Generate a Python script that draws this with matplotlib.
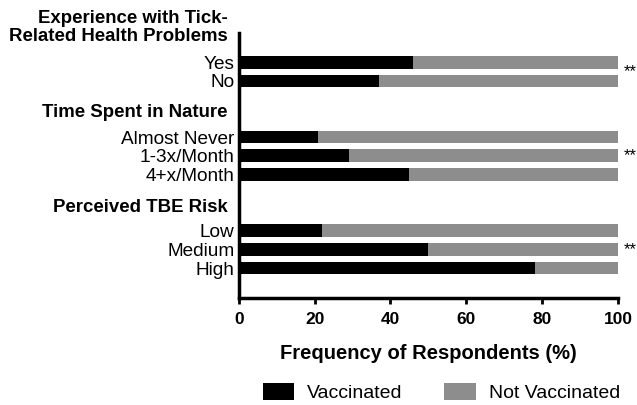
import numpy as np
import matplotlib.pyplot as plt
import matplotlib.transforms as mtransforms

plt.rcParams['font.family'] = ['Liberation Sans', 'DejaVu Sans']

labels = ["Yes", "No", "Almost Never", "1-3x/Month", "4+x/Month", "Low", "Medium", "High"]
vaccinated = [46, 37, 21, 29, 45, 22, 50, 78]
not_vaccinated = [100 - v for v in vaccinated]
positions = [0, 1, 4, 5, 6, 9, 10, 11]

headers = ["Experience with Tick-\nRelated Health Problems", "Time Spent in Nature", "Perceived TBE Risk"]
header_pos = [-1.86, 2.67, 7.75]
sig_pos = [0.5, 5, 10]

fig = plt.figure(figsize=(6.37, 4.05), dpi=100)
ax = fig.add_axes([0.375, 0.264, 0.595, 0.655])

ax.barh(positions, vaccinated, height=0.68, color='black', label='Vaccinated')
ax.barh(positions, not_vaccinated, left=vaccinated, height=0.68, color='#8d8d8d', label='Not Vaccinated')

ax.set_ylim(12.6, -1.57)
ax.set_xlim(0, 100)
ax.set_yticks(positions)
ax.set_yticklabels(labels, fontsize=13.7)
ax.tick_params(axis='y', length=0, pad=3)
ax.set_xticks([0, 20, 40, 60, 80, 100])
ax.tick_params(axis='x', length=4, width=2, labelsize=12.5, pad=6)
for t in ax.get_xticklabels():
    t.set_fontweight('bold')

for s in ['top', 'right']:
    ax.spines[s].set_visible(False)
for s in ['left', 'bottom']:
    ax.spines[s].set_linewidth(2.5)

trans = mtransforms.blended_transform_factory(ax.transAxes, ax.transData)
for h, y in zip(headers, header_pos):
    ax.text(-0.029, y, h, transform=trans, ha='right', va='center', fontsize=13.4,
            fontweight='bold', clip_on=False, linespacing=1.1)

for y in sig_pos:
    ax.text(101.5, y, '**', ha='left', va='center', fontsize=12, clip_on=False)

ax.set_xlabel('Frequency of Respondents (%)', fontsize=14.5, fontweight='bold', labelpad=12)

fig.legend(loc='center', bbox_to_anchor=(0.693, 0.03), ncol=2, frameon=False,
           fontsize=14, handlelength=1.6, handleheight=0.9, handletextpad=0.67,
           columnspacing=2.15)

fig.savefig('out.png', dpi=100)
